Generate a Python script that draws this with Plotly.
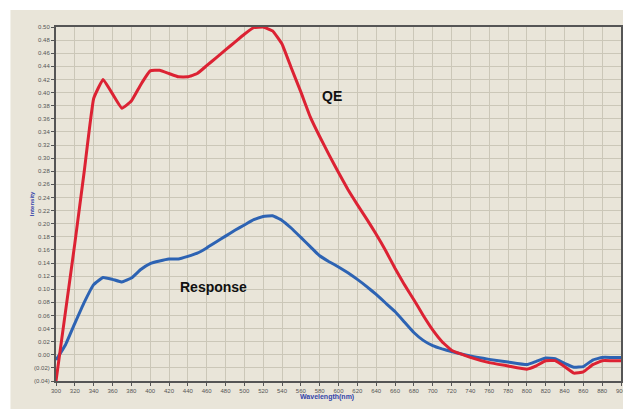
import plotly.graph_objects as go

# wavelength (nm) and the two curves
wavelength = [300, 310, 320, 330, 340, 350, 360, 370, 380, 390, 400, 410, 420, 430, 440,
              450, 460, 470, 480, 490, 500, 510, 520, 530, 540, 550, 560, 570, 580, 590,
              600, 610, 620, 630, 640, 650, 660, 670, 680, 690, 700, 710, 720, 740, 760,
              780, 800, 810, 820, 830, 840, 850, 860, 870, 880, 890, 900]

qe = [-0.040, 0.065, 0.170, 0.280, 0.391, 0.420, 0.398, 0.376, 0.387, 0.412, 0.433, 0.434,
      0.429, 0.424, 0.424, 0.429, 0.441, 0.453, 0.465, 0.477, 0.489, 0.499, 0.500, 0.494,
      0.474, 0.437, 0.401, 0.363, 0.333, 0.305, 0.278, 0.252, 0.229, 0.207, 0.184, 0.159,
      0.132, 0.107, 0.084, 0.060, 0.038, 0.020, 0.007, -0.004, -0.012, -0.017, -0.022,
      -0.017, -0.009, -0.009, -0.018, -0.028, -0.026, -0.015, -0.009, -0.009, -0.009]

response = [-0.008, 0.015, 0.048, 0.080, 0.107, 0.118, 0.115, 0.111, 0.117, 0.130, 0.139,
            0.143, 0.146, 0.146, 0.150, 0.155, 0.163, 0.172, 0.181, 0.190, 0.198, 0.206,
            0.211, 0.212, 0.205, 0.193, 0.179, 0.165, 0.151, 0.142, 0.134, 0.125, 0.115,
            0.104, 0.092, 0.079, 0.066, 0.050, 0.034, 0.022, 0.014, 0.009, 0.005, -0.002,
            -0.007, -0.011, -0.015, -0.010, -0.005, -0.006, -0.013, -0.019, -0.018, -0.008,
            -0.004, -0.004, -0.004]

x_ticks = list(range(300, 901, 20))
y_tickvals = [round(-0.04 + 0.02 * i, 2) for i in range(28)]
y_ticktext = ["(0.04)", "(0.02)"] + ["%.2f" % v for v in y_tickvals[2:]]

beige = "#e9e5d9"
grid = "#cbc7b8"

fig = go.Figure()
fig.add_trace(go.Scatter(x=wavelength, y=response, mode="lines", name="Response",
                         line=dict(color="#2d63b3", width=3, shape="spline",
                                   smoothing=0.3)))
fig.add_trace(go.Scatter(x=wavelength, y=qe, mode="lines", name="QE",
                         line=dict(color="#dc2233", width=3, shape="spline",
                                   smoothing=0.3)))

# beige panel behind the chart
fig.add_shape(type="rect", xref="paper", yref="paper",
              x0=-0.0806, x1=1.02, y0=-0.1, y1=1.048,
              fillcolor=beige, line=dict(width=0), layer="below")

fig.add_annotation(x=593, y=0.395, text="<b>QE</b>", showarrow=False,
                   font=dict(family="Liberation Sans", size=14, color="#111111"))
fig.add_annotation(x=467, y=0.104, text="<b>Response</b>", showarrow=False,
                   font=dict(family="Liberation Sans", size=14, color="#111111"))

# axis titles
fig.add_annotation(xref="paper", yref="paper", x=0.48, y=-0.045, yanchor="middle",
                   text="<b>Wavelength(nm)</b>", showarrow=False,
                   font=dict(family="Liberation Sans", size=7, color="#3344aa"))
fig.add_annotation(xref="paper", yref="paper", x=-0.042, y=0.5, textangle=-90,
                   xanchor="center", text="<b>Intensity</b>", showarrow=False,
                   font=dict(family="Liberation Sans", size=6, color="#3344aa"))

fig.update_xaxes(range=[300, 900], tickvals=x_ticks, showgrid=True, gridcolor=grid,
                 gridwidth=1, zeroline=False, showline=True, linecolor="#555555",
                 linewidth=2, mirror=True, ticks="outside", ticklen=3,
                 tickcolor="#555555", tickfont=dict(family="Liberation Sans", size=6,
                                                     color="#555555"))
fig.update_yaxes(range=[-0.04, 0.50], tickvals=y_tickvals, ticktext=y_ticktext,
                 showgrid=True, gridcolor=grid, gridwidth=1, zeroline=False,
                 showline=True, linecolor="#555555", linewidth=2, mirror=True,
                 ticks="outside", ticklen=3, tickcolor="#555555",
                 tickfont=dict(family="Liberation Sans", size=6, color="#555555"))

# the page adds an 8px body margin, so the figure is sized to fit inside it
fig.update_layout(width=623, height=401, showlegend=False,
                  paper_bgcolor="white", plot_bgcolor=beige,
                  margin=dict(l=48, r=4, t=19, b=28))

fig.write_html("out.html")
